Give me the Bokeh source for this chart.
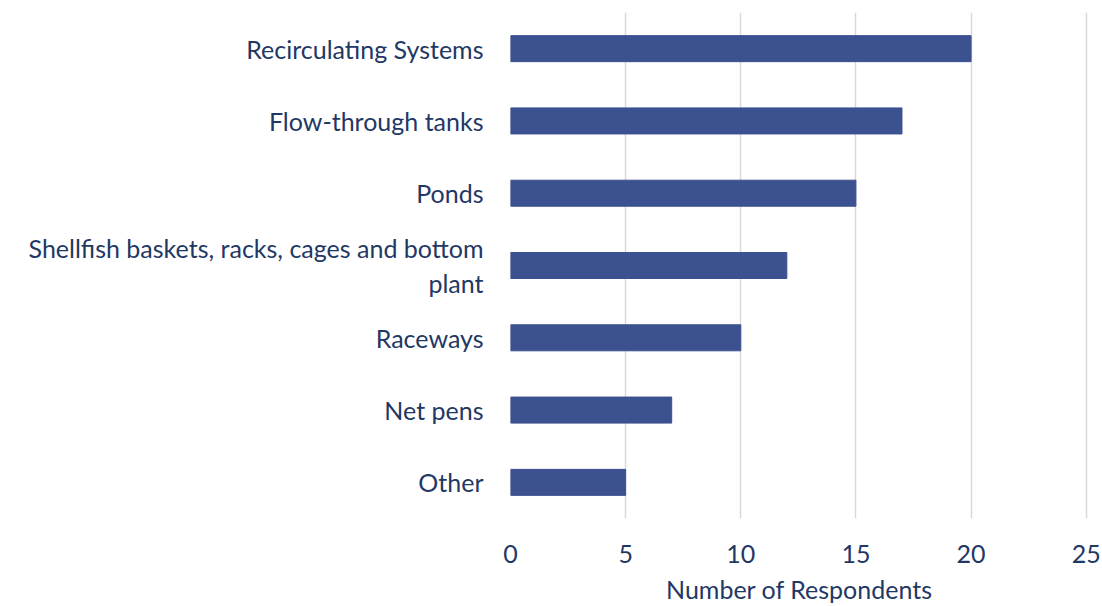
from bokeh.plotting import figure
from bokeh.models import Range1d, FixedTicker
from bokeh.embed import file_html
from bokeh.resources import INLINE

categories = ["Recirculating Systems", "Flow-through tanks", "Ponds",
              "Shellfish baskets, racks, cages and bottom\nplant",
              "Raceways", "Net pens", "Other"]
values = [20, 17, 15, 12, 10, 7, 5]
x_ticks = [0, 5, 10, 15, 20, 25]
x_title = "Number of Respondents"

FONT = "Lato"
TEXT_COLOR = "#1f3864"
BAR_COLOR = "#3c5190"

n = len(categories)
ypos = [n - i - 0.5 for i in range(n)]

p = figure(width=1102, height=606, output_backend="svg", toolbar_location=None,
           y_range=Range1d(0, n), x_range=Range1d(0, 25.1),
           min_border_left=510, min_border_right=14, min_border_top=12,
           min_border_bottom=88)
p.outline_line_color = None
p.background_fill_color = "white"
p.border_fill_color = "white"

p.hbar(y=ypos, right=values, left=0, height=0.36, color=BAR_COLOR)

p.xaxis.ticker = FixedTicker(ticks=x_ticks)
p.xaxis.axis_line_color = None
p.xaxis.major_tick_line_color = None
p.xaxis.minor_tick_line_color = None
p.xaxis.major_label_text_font = FONT
p.xaxis.major_label_text_font_size = "25px"
p.xaxis.major_label_text_color = TEXT_COLOR
p.xaxis.major_label_standoff = 20
p.xaxis.axis_label = x_title
p.xaxis.axis_label_text_font = FONT
p.xaxis.axis_label_text_font_size = "25px"
p.xaxis.axis_label_text_font_style = "normal"
p.xaxis.axis_label_text_color = TEXT_COLOR
p.xaxis.axis_label_standoff = 8

p.xgrid.grid_line_color = "#d9d9d9"
p.xgrid.grid_line_width = 1.5
p.ygrid.grid_line_color = None

p.yaxis.ticker = FixedTicker(ticks=ypos)
p.yaxis.major_label_overrides = {y: c for y, c in zip(ypos, categories)}
p.yaxis.axis_line_color = None
p.yaxis.major_tick_line_color = None
p.yaxis.minor_tick_line_color = None
p.yaxis.major_label_text_font = FONT
p.yaxis.major_label_text_font_size = "25px"
p.yaxis.major_label_text_color = TEXT_COLOR
p.yaxis.major_label_text_line_height = 1.15
p.yaxis.major_label_standoff = 21

open("out.html", "w").write(file_html(p, INLINE))
